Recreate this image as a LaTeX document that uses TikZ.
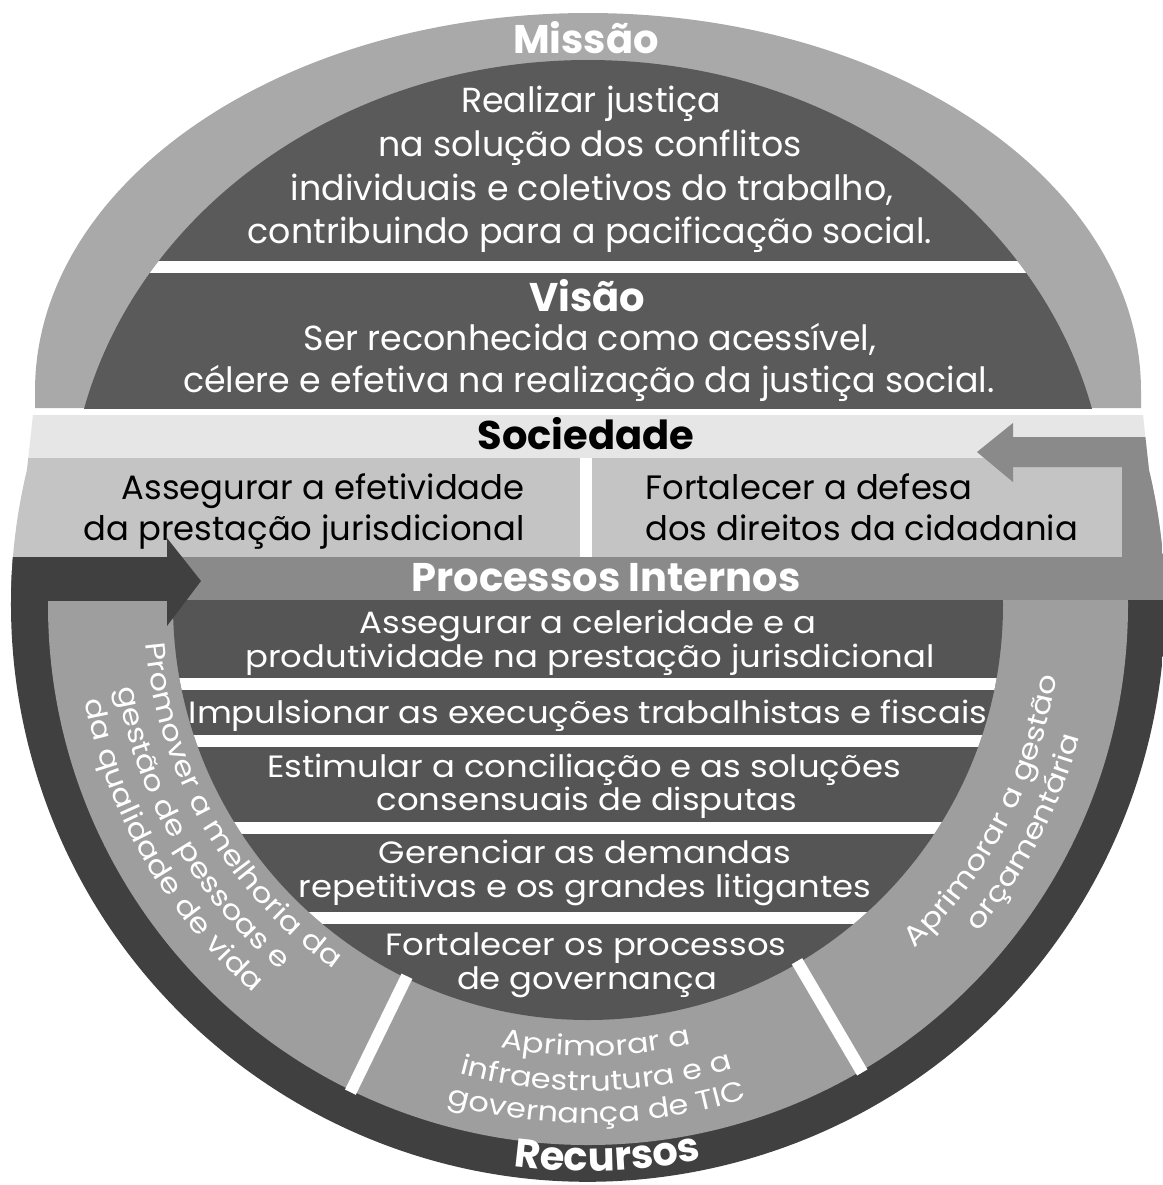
\documentclass[tikz,border=0pt]{standalone}
\usepackage{fontspec}
\usetikzlibrary{decorations.text}
\newfontfamily\fut{Poppins}
\newfontfamily\futw[FakeStretch=1.1]{Poppins}
\newfontfamily\futr[FakeStretch=1.16]{Poppins}
\definecolor{ringtop}{HTML}{A9A9A9}
\definecolor{darktop}{HTML}{5A5A5A}
\definecolor{socband}{HTML}{E6E6E6}
\definecolor{socbox}{HTML}{C4C4C4}
\definecolor{midgray}{HTML}{8A8A8A}
\definecolor{darkring}{HTML}{404040}
\definecolor{ringlow}{HTML}{9E9E9E}
\definecolor{innerdark}{HTML}{555555}
\newcommand\ringfnt{\color{white}\futr\fontsize{13.8}{13.8}\selectfont}
\newcommand\recfnt{\color{white}\fut\bfseries\fontsize{20}{20}\selectfont}
\begin{document}
\begin{tikzpicture}[x=0.5pt,y=-0.5pt,
  toptxt/.style={text=white, font=\fut\fontsize{17.4}{20}\selectfont, anchor=base, inner sep=0pt},
  boxtxt/.style={text=black, font=\fut\fontsize{16.9}{20}\selectfont, inner sep=0pt},
  lowtxt/.style={text=white, font=\futw\fontsize{15.4}{18}\selectfont, anchor=base, inner sep=0pt},
  title/.style={font=\fut\bfseries\fontsize{20}{22}\selectfont, anchor=base, inner sep=0pt},
  sepline/.style={white, line width=6},
  curvetext/.style={decorate, decoration={text along path, text align=center, text={#1}}}
]
\useasboundingbox (0,0) rectangle (1163,1185);
\fill[white] (0,0) rectangle (1163,1185);

% ---- top dome: Missao / Visao
\fill[ringtop] (35,391) arc[start angle=180, end angle=360, x radius=553, y radius=378]
  -- (1141,408) -- (35,408) -- cycle;
\begin{scope}
  \clip (0,0) rectangle (1163,408);
  \fill[darktop] (588,519) ellipse[x radius=519, y radius=459];
  \clip (588,519) ellipse[x radius=519, y radius=459];
  \draw[sepline] (0,267) -- (1163,267);
\end{scope}

% ---- lower part
\begin{scope}
  \clip (33,415) -- (1143,415) -- (1149,470)
    arc[start angle=-13.5, end angle=193.5, radius=577] -- cycle;
  \fill[socband] (0,415) rectangle (1163,458);
  \fill[socbox] (0,458) rectangle (1163,557);
  \fill[darkring] (0,557) rectangle (1163,1185);
  \fill[midgray] (0,557) rectangle (1163,600);
  % right arrow (Processos Internos -> Sociedade)
  \fill[midgray] (1122,437) rectangle (1163,600);
  \fill[midgray] (977,452) -- (1013,423) -- (1013,437) -- (1122,437)
    -- (1122,467) -- (1013,467) -- (1013,482) -- cycle;
  % resources ring and inner processes
  \begin{scope}
    \clip (0,600) rectangle (1163,1185);
    \fill[ringlow] (588,605) circle[radius=540];
    \fill[innerdark] (588,605) circle[radius=415];
    \draw[sepline, shift={(588,605)}] (116:413) -- (116:542);
    \draw[sepline, shift={(588,605)}] (59.6:413) -- (59.6:542);
    \begin{scope}
      \clip (588,605) circle[radius=415];
      \draw[sepline] (0,684) -- (1163,684);
      \draw[sepline] (0,741) -- (1163,741);
      \draw[sepline] (0,828) -- (1163,828);
      \draw[sepline] (0,918) -- (1163,918);
    \end{scope}
  \end{scope}
  % left arrow (Recursos -> Processos Internos)
  \fill[darkring] (0,557) rectangle (167,601);
  \fill[darkring] (167,538) -- (201,581) -- (167,626) -- cycle;
  % separator between the two Sociedade boxes
  \draw[sepline] (586,458) -- (586,557);
\end{scope}

% ---- texts
\node[title, text=white] (missao) at (586,53) {Missão};
\node[toptxt] (m1) at (591,112) {Realizar justiça};
\node[toptxt] (m2) at (590,156) {na solução dos conflitos};
\node[toptxt] (m3) at (592,200) {individuais e coletivos do trabalho,};
\node[toptxt] (m4) at (590,243) {contribuindo para a pacificação social.};
\node[title, text=white] (visao) at (587,311) {Visão};
\node[toptxt] (v1) at (590,350) {Ser reconhecida como acessível,};
\node[toptxt] (v2) at (589,392) {célere e efetiva na realização da justiça social.};

\node[title, text=black] (soc) at (586,449) {Sociedade};
\node[boxtxt, anchor=base east] (s1) at (525,499) {Assegurar a efetividade};
\node[boxtxt, anchor=base east] (s2) at (525,540) {da prestação jurisdicional};
\node[boxtxt, anchor=base west] (s3) at (645,499) {Fortalecer a defesa};
\node[boxtxt, anchor=base west] (s4) at (645,540) {dos direitos da cidadania};

\node[title, text=white] (proc) at (606,591) {Processos Internos};
\node[lowtxt] (p1a) at (588,633) {Assegurar a celeridade e a};
\node[lowtxt] (p1b) at (590,667) {produtividade na prestação jurisdicional};
\node[lowtxt] (p2) at (588,723) {Impulsionar as execuções trabalhistas e fiscais};
\node[lowtxt] (p3a) at (584,777) {Estimular a conciliação e as soluções};
\node[lowtxt] (p3b) at (587,810) {consensuais de disputas};
\node[lowtxt] (p4a) at (585,863) {Gerenciar as demandas};
\node[lowtxt] (p4b) at (585,897) {repetitivas e os grandes litigantes};
\node[lowtxt] (p5a) at (586,955) {Fortalecer os processos};
\node[lowtxt] (p5b) at (587,989) {de governança};

% curved texts in the resources ring
\path[shift={(588,605)}, curvetext={|\ringfnt|Promover a melhoria da}]
  (-160:444) arc[start angle=-160, end angle=-260, radius=444];
\path[shift={(588,605)}, curvetext={|\ringfnt|gestão de pessoas e}]
  (-160:478) arc[start angle=-160, end angle=-260, radius=478];
\path[shift={(588,605)}, curvetext={|\ringfnt|da qualidade de vida}]
  (-160:512) arc[start angle=-160, end angle=-260, radius=512];

\path[shift={(588,605)}, curvetext={|\ringfnt|Aprimorar a gestão}]
  (80:474) arc[start angle=80, end angle=-25, radius=474];
\path[shift={(588,605)}, curvetext={|\ringfnt|orçamentária}]
  (80:509) arc[start angle=80, end angle=-25, radius=509];

\path[shift={(588,605)}, curvetext={|\ringfnt|Aprimorar a}]
  (129:451) arc[start angle=129, end angle=49, radius=451];
\path[shift={(588,605)}, curvetext={|\ringfnt|infraestrutura e a}]
  (129:486) arc[start angle=129, end angle=49, radius=486];
\path[shift={(588,605)}, curvetext={|\ringfnt|governança de TIC}]
  (129:518) arc[start angle=129, end angle=49, radius=518];

\path[shift={(588,605)}, curvetext={|\recfnt|Recursos}]
  (128:566) arc[start angle=128, end angle=48, radius=566];
\end{tikzpicture}
\end{document}
